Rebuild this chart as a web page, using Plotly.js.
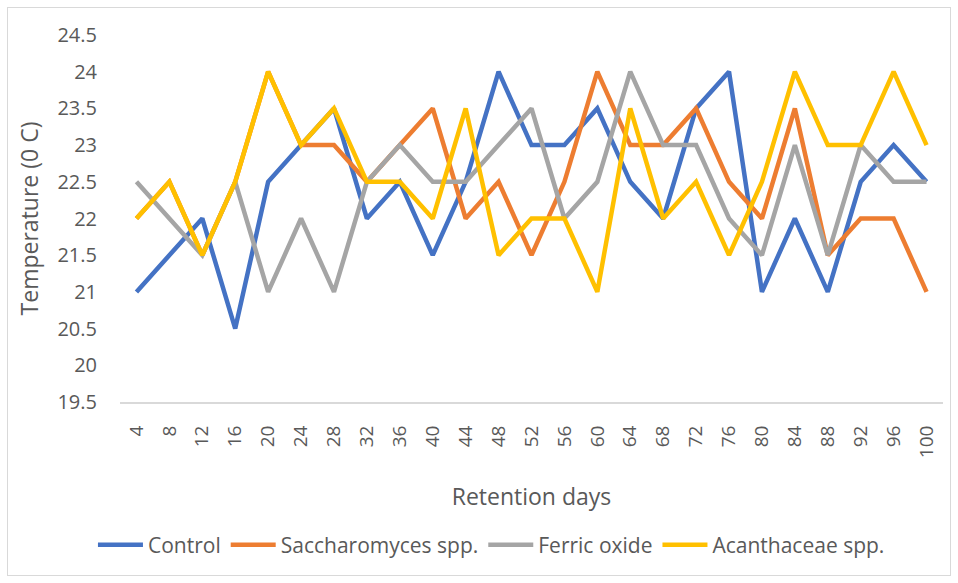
<!DOCTYPE html>
<html>
<head>
<meta charset="utf-8">
<script src="https://cdn.plot.ly/plotly-3.0.1.min.js"></script>
<style>
html,body{margin:0;padding:0;background:#fff;}
#wrap{position:relative;width:958px;height:583px;}
#chart{width:958px;height:583px;}
#frame{position:absolute;left:7px;top:7px;width:942px;height:567px;border:1px solid #d9d9d9;pointer-events:none;}
</style>
</head>
<body>
<div id="wrap"><div id="chart"></div><div id="frame"></div></div>
<script>
const days = ["4","8","12","16","20","24","28","32","36","40","44","48","52","56","60","64","68","72","76","80","84","88","92","96","100"];
const control = [21,21.5,22,20.5,22.5,23,23.5,22,22.5,21.5,22.5,24,23,23,23.5,22.5,22,23.5,24,21,22,21,22.5,23,22.5];
const saccharomyces = [22,22.5,21.5,22.5,24,23,23,22.5,23,23.5,22,22.5,21.5,22.5,24,23,23,23.5,22.5,22,23.5,21.5,22,22,21];
const ferricOxide = [22.5,22,21.5,22.5,21,22,21,22.5,23,22.5,22.5,23,23.5,22,22.5,24,23,23,22,21.5,23,21.5,23,22.5,22.5];
const acanthaceae = [22,22.5,21.5,22.5,24,23,23.5,22.5,22.5,22,23.5,21.5,22,22,21,23.5,22,22.5,21.5,22.5,24,23,23,24,23];
const yTicks = [19.5,20,20.5,21,21.5,22,22.5,23,23.5,24,24.5];

const series = [
  {name:"Control", y:control, color:"#4472C4"},
  {name:"Saccharomyces spp.", y:saccharomyces, color:"#ED7D31"},
  {name:"Ferric oxide", y:ferricOxide, color:"#A5A5A5"},
  {name:"Acanthaceae spp.", y:acanthaceae, color:"#FFC000"}
];
const traces = series.map(s => ({
  type:"scatter", mode:"lines", name:s.name, x:days, y:s.y,
  line:{color:s.color, width:4.5}
}));
const font = "Open Sans, Lato, sans-serif";
const layout = {
  width:958, height:583,
  margin:{l:120, r:15, t:35, b:181, autoexpand:false},
  paper_bgcolor:"#fff", plot_bgcolor:"#fff",
  font:{family:font, color:"#595959", size:18},
  showlegend:true,
  legend:{orientation:"h", xref:"container", x:0.513, xanchor:"center", y:-0.39, yanchor:"middle",
          font:{size:21, color:"#595959"}, itemwidth:45, tracegroupgap:0},
  xaxis:{type:"category", range:[-0.5,24.5], tickangle:-90, showgrid:false, zeroline:false,
         showline:true, linecolor:"#d9d9d9", linewidth:2, ticks:"", ticklabelstandoff:14,
         tickfont:{size:19, color:"#595959"}, automargin:false,
         title:{text:"Retention days", font:{size:23, color:"#595959"}, standoff:32}},
  yaxis:{range:[19.5,24.5], tickvals:yTicks, ticktext:yTicks.map(String), showgrid:false, zeroline:false,
         showline:false, ticks:"", ticklabelstandoff:22, tickfont:{size:20, color:"#595959"}, automargin:false,
         title:{text:"Temperature (0 C)", font:{size:23, color:"#595959"}, standoff:12}}
};
Plotly.newPlot("chart", traces, layout, {displayModeBar:false, staticPlot:true});
</script>
</body>
</html>
